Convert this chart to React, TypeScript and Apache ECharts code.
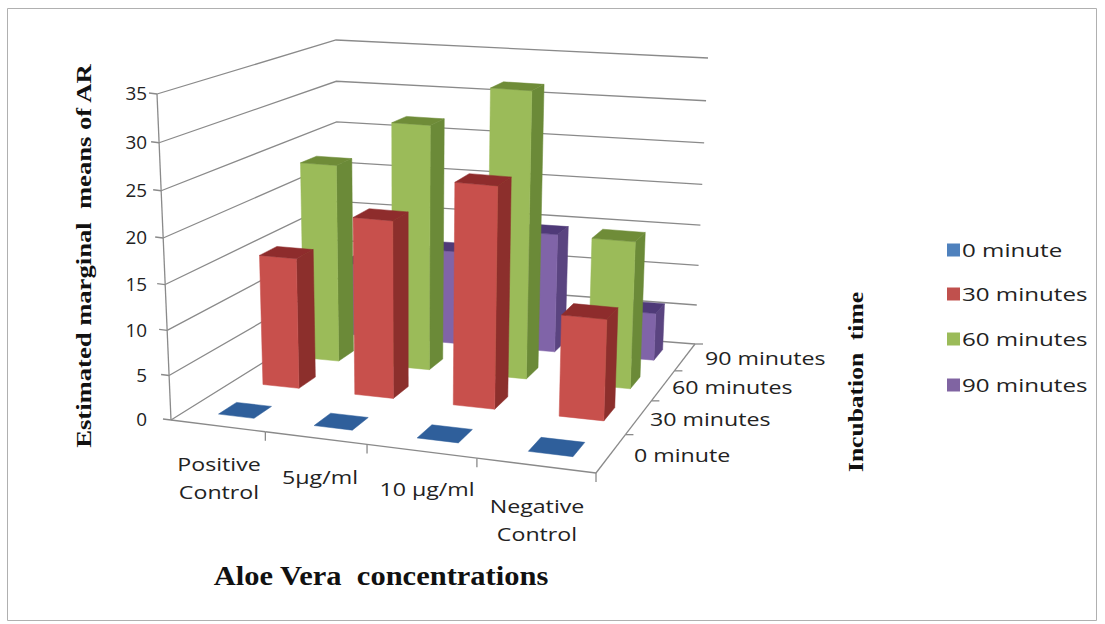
import React, { useEffect, useRef } from "react";
import * as echarts from "echarts";

const categories = ["Positive Control", "5µg/ml", "10 µg/ml", "Negative Control"];
const categoryLabels = ["Positive\nControl", "5µg/ml", "10 µg/ml", "Negative\nControl"];
const seriesNames = ["0 minute", "30 minutes", "60 minutes", "90 minutes"];
const values0 = [0, 0, 0, 0];
const values30 = [15, 20.2, 25, 11.5];
const values60 = [23.3, 28.6, 33.2, 17.2];
const values90 = [9, 11.5, 14.5, 5.8];
const valueTicks = [0, 5, 10, 15, 20, 25, 30, 35];

const LEGEND_COLORS = ["#4F81BD", "#C0504D", "#9BBB59", "#8064A2"];
const FRONT = ["#2F5F9B", "#C8504C", "#9BBB59", "#8064A8"];
const SIDE = ["#264A78", "#8C2F2C", "#6B8A38", "#5A4480"];
const TOP = ["#2A5590", "#8E2C2C", "#6F8C38", "#4F3A78"];

const BAR_GAP = 0.3;
const FLAT_GAP = 0.31;
const BAR_SHIFT = 0.01;
const VALUE_MAX = 35;
const BOX = 100;
const SANS = '"Open Sans", sans-serif';
const SERIF = '"Liberation Serif", serif';
const AXIS_COLOR = "#8a8a8a";
const TEXT_COLOR = "#222222";

type P = [number, number];

function floorMatrix(a: P, b: P, c: P, d: P) {
  const dx1 = b[0] - c[0], dx2 = d[0] - c[0], sx = a[0] - b[0] + c[0] - d[0];
  const dy1 = b[1] - c[1], dy2 = d[1] - c[1], sy = a[1] - b[1] + c[1] - d[1];
  const det = dx1 * dy2 - dx2 * dy1;
  const g = (sx * dy2 - dx2 * sy) / det;
  const h = (dx1 * sy - sx * dy1) / det;
  return {
    A: b[0] - a[0] + g * b[0], B: d[0] - a[0] + h * d[0], C: a[0],
    D: b[1] - a[1] + g * b[1], E: d[1] - a[1] + h * d[1], F: a[1],
    g, h,
  };
}

const M = floorMatrix([171, 420], [596, 473], [695, 344], [338, 316]);
// pixel rise and sideways lean of the full height at floor corners FL, FR, BR, BL
const RISE = [326, 338, 286, 276];
const LEAN = [-14, 10, 13, -2];
const HEIGHT_BEND = -0.052;

function bilinear(q: number[], u: number, v: number) {
  return q[0] * (1 - u) * (1 - v) + q[1] * u * (1 - v) + q[2] * u * v + q[3] * (1 - u) * v;
}

// u: 0..1 along categories, v: 0..1 along depth, h: 0..1 along height
function project(u: number, v: number, h: number): P {
  const W = M.g * u + M.h * v + 1;
  const fx = (M.A * u + M.B * v + M.C) / W;
  const fy = (M.D * u + M.E * v + M.F) / W;
  const f = (h * (1 + HEIGHT_BEND)) / (1 + h * HEIGHT_BEND);
  return [fx + f * bilinear(LEAN, u, v), fy - f * bilinear(RISE, u, v)];
}

function barItem(depthIndex: number) {
  return (_params: any, api: any) => {
    const pt = api.coord([api.value(0), api.value(1)]);
    const base = api.coord([api.value(0), 0]);
    const band = api.size([1, 0])[0] / BOX;
    const uc = pt[0] / BOX + BAR_SHIFT;
    const h = (base[1] - pt[1]) / BOX;
    const depth = 1 / seriesNames.length;
    const vc = (depthIndex + 0.5) * depth;
    const gap = h > 0 ? BAR_GAP : FLAT_GAP;
    const u0 = uc - band * (0.5 - gap), u1 = uc + band * (0.5 - gap);
    const v0 = vc - depth * (0.5 - gap), v1 = vc + depth * (0.5 - gap);
    const poly = (points: P[], fill: string) => ({
      type: "polygon",
      shape: { points },
      style: { fill, stroke: fill, lineWidth: 0.5 },
    });
    const children: any[] = [];
    if (h > 0) {
      children.push(poly([project(u1, v0, 0), project(u1, v1, 0), project(u1, v1, h), project(u1, v0, h)], SIDE[depthIndex]));
      children.push(poly([project(u0, v0, 0), project(u1, v0, 0), project(u1, v0, h), project(u0, v0, h)], FRONT[depthIndex]));
    }
    children.push(poly([project(u0, v0, h), project(u1, v0, h), project(u1, v1, h), project(u0, v1, h)], h > 0 ? TOP[depthIndex] : FRONT[depthIndex]));
    return { type: "group", children };
  };
}

function line(a: P, b: P) {
  return {
    type: "line",
    shape: { x1: a[0], y1: a[1], x2: b[0], y2: b[1] },
    style: { stroke: AXIS_COLOR, lineWidth: 1.3 },
  };
}

function label(text: string, pos: P, align: string, scaleX: number, size = 19, lineHeight = 28) {
  return {
    type: "text",
    x: pos[0],
    y: pos[1],
    scaleX,
    style: { text, x: 0, y: 0, align, verticalAlign: "middle", font: `${size}px ${SANS}`, fill: TEXT_COLOR, lineHeight },
  };
}

function wallItem(_params: any, api: any) {
  const v = api.value(0);
  const y = api.coord([0, v]);
  const h = (BOX - y[1]) / BOX;
  const a = project(0, 0, h), b = project(0, 1, h), c = project(1, 1, h);
  return {
    type: "group",
    children: [
      { type: "polyline", shape: { points: [a, b, c] }, style: { stroke: AXIS_COLOR, lineWidth: 1.3, fill: "none" } },
      line(a, [a[0] - 8, a[1] - 1]),
      label(String(v), [147, a[1] - 1], "right", 1.05, 18),
    ],
  };
}

function verticalAxisItem() {
  return { type: "group", children: [line(project(0, 0, 0), project(0, 0, 1))] };
}

const CATEGORY_LABEL_POS: P[] = [[219, 477], [320, 476], [427, 488], [537, 519]];
const DEPTH_LABEL_POS: P[] = [[634, 454], [650, 418], [672, 386], [705, 357]];
const LABEL_STRETCH = 1.22;

function frontAxisItem(params: any, api: any) {
  const i = params.dataIndex;
  const band = api.size([1, 0])[0] / BOX;
  const p = project(band * (i + 1), 0, 0);
  const start = project(band * i, 0, 0);
  return {
    type: "group",
    children: [
      line(start, p),
      line(p, [p[0], p[1] + 9]),
      label(categoryLabels[i], CATEGORY_LABEL_POS[i], "center", LABEL_STRETCH),
    ],
  };
}

function depthAxisItem(params: any) {
  const i = params.dataIndex;
  const d = 1 / seriesNames.length;
  const start = project(1, d * i, 0);
  const p = project(1, d * (i + 1), 0);
  return {
    type: "group",
    children: [
      line(start, p),
      line(p, [p[0] + 8, p[1]]),
      label(seriesNames[i], DEPTH_LABEL_POS[i], "left", LABEL_STRETCH),
    ],
  };
}

const LEGEND_X = 947;
const LEGEND_Y = [250, 294, 339, 385];

export default function App() {
  const ref = useRef<HTMLDivElement>(null);
  useEffect(() => {
    const chart = echarts.init(ref.current!, undefined, { renderer: "svg" });
    const dataSets = [values0, values30, values60, values90];
    const axisBase = { type: "custom", silent: true, z: 1, encode: { x: 0, y: 1 } };
    const legendMarks: any[] = seriesNames.flatMap((name, i) => [
      {
        type: "rect",
        shape: { x: LEGEND_X, y: LEGEND_Y[i] - 6.5, width: 13, height: 13 },
        style: { fill: LEGEND_COLORS[i] },
        silent: true,
      },
      {
        type: "text",
        x: LEGEND_X + 15,
        y: LEGEND_Y[i],
        scaleX: 1.27,
        style: { text: name, x: 0, y: 0, align: "left", verticalAlign: "middle", font: `19px ${SANS}`, fill: TEXT_COLOR },
      },
    ]);
    chart.setOption({
      animation: false,
      backgroundColor: "#ffffff",
      grid: { left: 0, top: 0, width: BOX, height: BOX, show: false },
      xAxis: { type: "category", data: categories, show: false },
      yAxis: { type: "value", min: 0, max: VALUE_MAX, show: false },
      series: [
        { ...axisBase, name: "walls", data: valueTicks.map((v) => [v, v]), encode: { x: -1, y: 1 }, renderItem: wallItem },
        { ...axisBase, name: "valueAxis", data: [[categories[0], 0]], renderItem: verticalAxisItem },
        { ...axisBase, name: "front", data: categories.map((c) => [c, 0]), renderItem: frontAxisItem },
        { ...axisBase, name: "depth", data: seriesNames.map((_, i) => [categories[i], 0]), renderItem: depthAxisItem },
        ...seriesNames.map((name, i) => ({
          type: "custom",
          name,
          silent: true,
          z: 10 + seriesNames.length - i,
          itemStyle: { color: LEGEND_COLORS[i] },
          encode: { x: 0, y: 1 },
          data: dataSets[i].map((v, k) => [categories[k], v]),
          renderItem: barItem(i),
        })),
      ],
      graphic: [
        { type: "rect", shape: { x: 7.5, y: 8.5, width: 1089, height: 612 }, style: { fill: "none", stroke: "#b0b0b0", lineWidth: 1 }, silent: true },
        ...legendMarks,
        {
          type: "text", x: 83, y: 256, rotation: Math.PI / 2, scaleX: 1.21,
          style: { text: "Estimated marginal  means of AR", x: 0, y: 0, align: "center", verticalAlign: "middle", font: `bold 22px ${SERIF}`, fill: "#111" },
        },
        {
          type: "text", x: 856, y: 382, rotation: Math.PI / 2, scaleX: 1.16,
          style: { text: "Incubation  time", x: 0, y: 0, align: "center", verticalAlign: "middle", font: `bold 22px ${SERIF}`, fill: "#111" },
        },
        {
          type: "text", x: 381, y: 576, scaleX: 1.13,
          style: { text: "Aloe Vera  concentrations", x: 0, y: 0, align: "center", verticalAlign: "middle", font: `bold 27px ${SERIF}`, fill: "#111" },
        },
      ],
    });
    return () => chart.dispose();
  }, []);
  return <div ref={ref} style={{ position: "fixed", left: 0, top: 0, width: 1105, height: 624 }} />;
}
